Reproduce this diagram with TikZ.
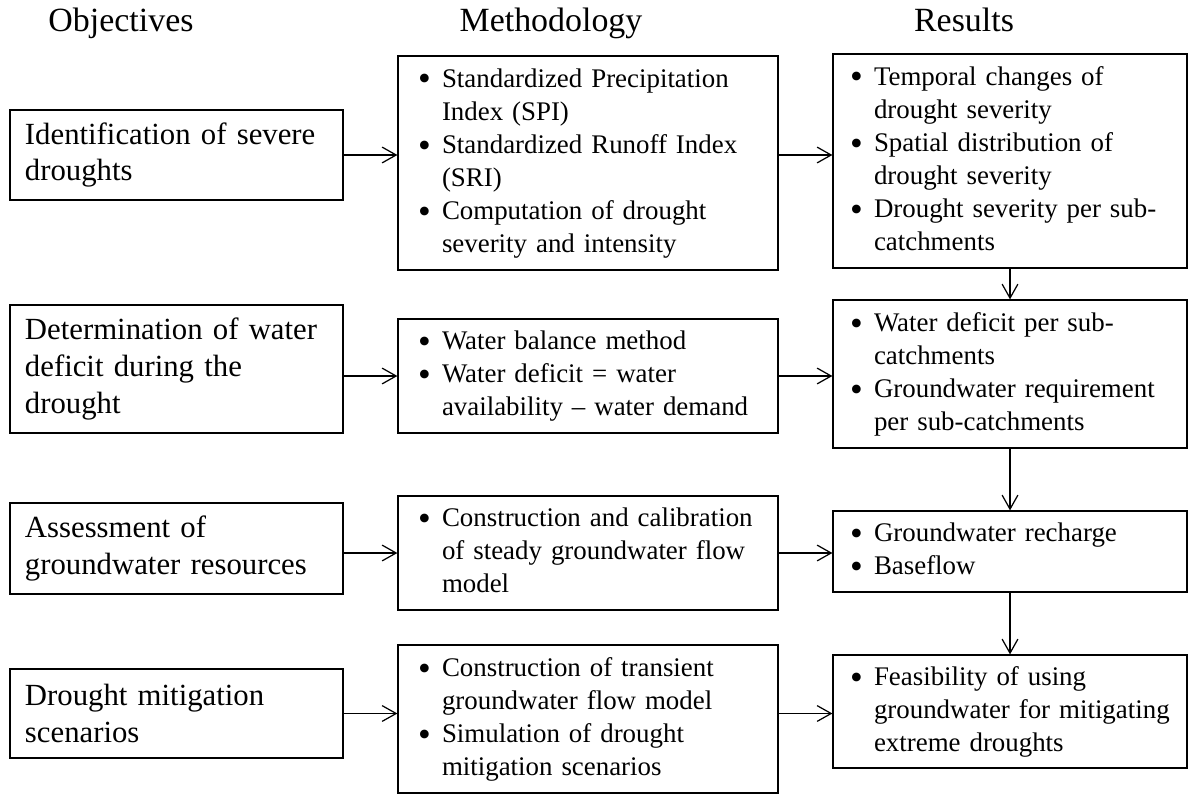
\documentclass[tikz,border=0pt]{standalone}
\usepackage{fontspec}
\usepackage{graphicx}
\setmainfont{Liberation Serif}
\usetikzlibrary{arrows.meta}
\newcommand{\bl}{\smash{\raisebox{-0.32ex}{\scalebox{1.35}{\textbullet}}}}
\newcommand{\blist}[1]{\begin{tabular}{@{}p{0.48cm}@{}l@{}}#1\end{tabular}}

\begin{document}
\begin{tikzpicture}[->,>={Straight Barb[length=8pt,width=9pt]},line width=0.7pt,
    head node/.style={anchor=base,font=\fontsize{19.3}{23}\selectfont},
    obj node/.style={draw,minimum width=6.66cm,text width=6.06cm,inner xsep=0.3cm,inner ysep=0pt,align=left,font=\fontsize{17.5}{21}\selectfont},
    met node/.style={draw,minimum width=7.6cm,text width=6.8cm,inner xsep=0.4cm,inner ysep=0pt,align=left,font=\fontsize{15.3}{18.8}\selectfont},
    res node/.style={draw,minimum width=7.08cm,text width=6.4cm,inner xsep=0.34cm,inner ysep=0pt,align=left,font=\fontsize{15.3}{18.8}\selectfont}]
                \useasboundingbox (0,0) rectangle (23.76,-15.94);
                \node[head node] (th1) at (2.42,-0.64) {Objectives};
                \node[head node] (th2) at (11.02,-0.64) {Methodology};
                \node[head node] (th3) at (19.28,-0.64) {Results};

                \node[obj node,minimum height=1.80cm] (o1) at (3.53,-3.10) {Identification of severe\\droughts};
                \node[obj node,minimum height=2.56cm] (o2) [below of=o1, node distance=4.28cm] {Determination of water\\deficit during the\\drought};
                \node[obj node,minimum height=1.82cm] (o3) [below of=o2, node distance=3.59cm] {Assessment of\\groundwater resources};
                \node[obj node,minimum height=1.78cm] (o4) [below of=o3, node distance=3.30cm] {Drought mitigation\\scenarios};

                \node[met node,minimum height=4.28cm] (m1) [right of=o1, node distance=8.23cm, yshift=-0.16cm] {\blist{\bl & Standardized Precipitation\\ & Index (SPI)\\ \bl & Standardized Runoff Index\\ & (SRI)\\ \bl & Computation of drought\\ & severity and intensity}};
                \node[met node,minimum height=2.28cm] (m2) [right of=o2, node distance=8.23cm, yshift=-0.14cm] {\blist{\bl & Water balance method\\ \bl & Water deficit = water\\ & availability -- water demand}};
                \node[met node,minimum height=2.28cm] (m3) [right of=o3, node distance=8.23cm, yshift=-0.09cm] {\blist{\bl & Construction and calibration\\ & of steady groundwater flow\\ & model}};
                \node[met node,minimum height=2.96cm] (m4) [right of=o4, node distance=8.23cm, yshift=-0.11cm] {\blist{\bl & Construction of transient\\ & groundwater flow model\\ \bl & Simulation of drought\\ & mitigation scenarios}};

                \node[res node,minimum height=4.28cm] (r1) [right of=m1, node distance=8.44cm, yshift=0.04cm] {\blist{\bl & Temporal changes of\\ & drought severity\\ \bl & Spatial distribution of\\ & drought severity\\ \bl & Drought severity per sub-\\ & catchments}};
                \node[res node,minimum height=2.96cm] (r2) [right of=m2, node distance=8.44cm, yshift=0.04cm] {\blist{\bl & Water deficit per sub-\\ & catchments\\ \bl & Groundwater requirement\\ & per sub-catchments}};
                \node[res node,minimum height=1.62cm] (r3) [right of=m3, node distance=8.44cm, yshift=0.03cm] {\blist{\bl & Groundwater recharge\\ \bl & Baseflow}};
                \node[res node,minimum height=2.26cm] (r4) [right of=m4, node distance=8.44cm, yshift=0.15cm] {\blist{\bl & Feasibility of using\\ & groundwater for mitigating\\ & extreme droughts}};

                \path
                    (o1.east) edge (o1.east -| m1.west)
                    (m1.east |- o1.east) edge (r1.west |- o1.east)
                    (o2.east |- m2.west) edge (m2.west)
                    (m2.east) edge (m2.east -| r2.west)
                    (o3.east |- m3.west) edge (m3.west)
                    (m3.east) edge (m3.east -| r3.west)
                    (o4.east) edge (o4.east -| m4.west)
                    (m4.east |- o4.east) edge (r4.west |- o4.east)
                    (r1) edge (r2)
                    (r2) edge (r3)
                    (r3) edge (r4)
                    ;
            \end{tikzpicture}
\end{document}
